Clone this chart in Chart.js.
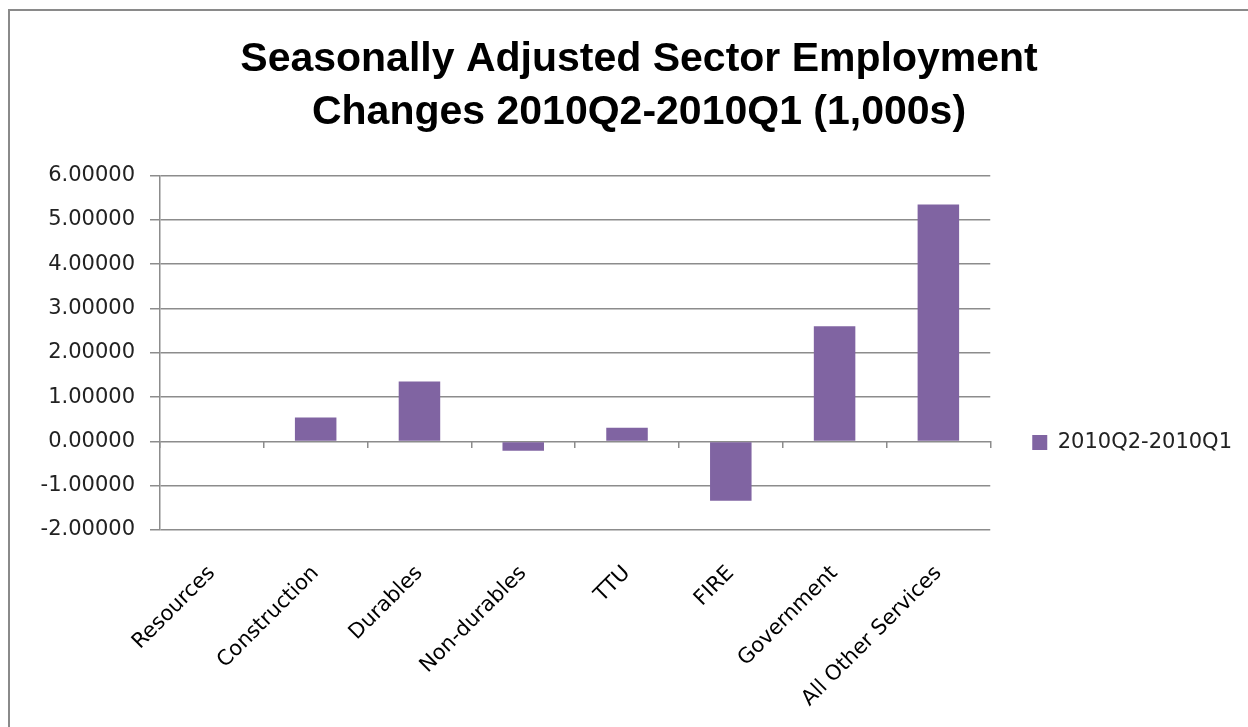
<!DOCTYPE html>
<html>
<head>
<meta charset="utf-8">
<title>Sector Employment Changes</title>
<script src="https://cdn.jsdelivr.net/npm/chart.js@4"></script>
<style>
html, body { margin: 0; padding: 0; background: #fff; overflow: hidden; }
#frame { position: absolute; left: 8px; top: 9px; width: 1300px; height: 760px; border: 2px solid #8a8a8a; }
#wrap { position: absolute; left: 0; top: 0; width: 1258px; height: 716px; }
</style>
</head>
<body>
<div id="frame"><div id="wrap"><canvas id="myChart"></canvas></div></div>
<script>
// values (1,000s)
const sectors = ['Resources', 'Construction', 'Durables', 'Non-durables', 'TTU', 'FIRE', 'Government', 'All Other Services'];
const changes = [0.0, 0.54, 1.35, -0.21, 0.31, -1.34, 2.60, 5.35];
const seriesName = '2010Q2-2010Q1';
const titleLines = ['Seasonally Adjusted Sector Employment', 'Changes 2010Q2-2010Q1 (1,000s)'];
const yMin = -2, yMax = 6, yStep = 1;

const gridGrey = '#8c8c8c';
const tickFont = { family: '"DejaVu Sans", sans-serif', size: 21 };

const canvas = document.getElementById('myChart');
const myChart = new Chart(canvas, {
  type: 'bar',
  data: {
    labels: sectors,
    datasets: [{
      label: seriesName,
      data: changes,
      backgroundColor: '#8064A2',
      borderWidth: 0,
      barPercentage: 0.4,
      categoryPercentage: 1.0
    }]
  },
  options: {
    responsive: true,
    maintainAspectRatio: false,
    animation: false,
    layout: { padding: { left: 26, right: 26, top: 0, bottom: 0 } },
    plugins: {
      title: {
        display: true,
        text: titleLines,
        color: '#000',
        font: { family: '"Liberation Sans", Arial, sans-serif', size: 41, weight: 'bold', lineHeight: 1.3 },
        padding: { top: 22, bottom: 36 }
      },
      legend: {
        position: 'right',
        // empty legend title only pushes the entry down to the zero line
        title: { display: true, text: ' ', font: { size: 1 }, padding: { top: 73, bottom: 73 } },
        labels: {
          color: '#222',
          font: tickFont,
          boxWidth: 15,
          boxHeight: 15,
          padding: 42
        }
      },
      tooltip: { enabled: false }
    },
    scales: {
      x: {
        type: 'category',
        offset: true,
        grid: { display: false },
        border: { display: false },
        ticks: { color: '#000', font: { family: '"DejaVu Sans", sans-serif', size: 21 }, minRotation: 45, maxRotation: 45, autoSkip: false, padding: 23 },
        afterFit(scale) { scale.height = 197; }
      },
      xZero: {
        type: 'category',
        position: { y: 0 },
        offset: true,
        grid: { drawOnChartArea: false, drawTicks: true, tickLength: 7, color: gridGrey, lineWidth: 1.5 },
        border: { display: false },
        ticks: { display: false }
      },
      y: {
        min: yMin,
        max: yMax,
        ticks: {
          stepSize: yStep,
          color: '#222',
          font: tickFont,
          padding: 15,
          callback: (v) => Number(v).toFixed(5)
        },
        grid: { color: gridGrey, lineWidth: 1.5, tickLength: 10 },
        border: { display: true, color: gridGrey, width: 1.5 },
        afterFit(scale) { scale.width = 124; }
      }
    }
  }
});
</script>
</body>
</html>
